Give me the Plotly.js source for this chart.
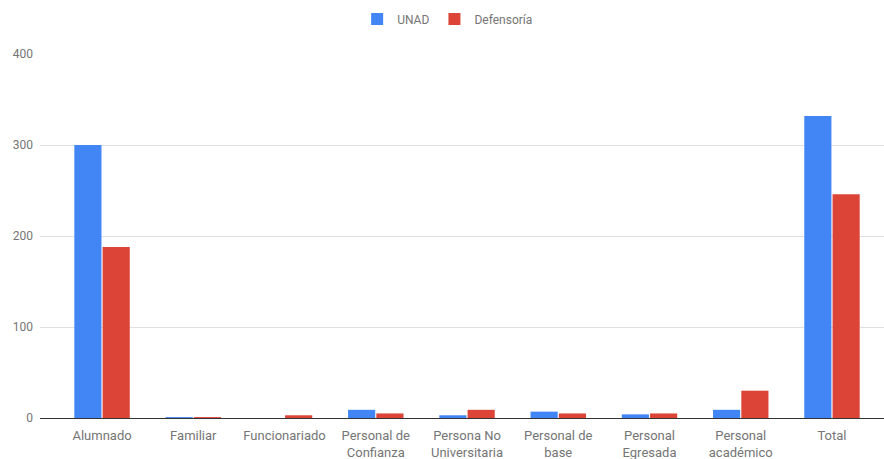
<!DOCTYPE html>
<html>
<head>
<meta charset="utf-8">
<script src="https://cdn.plot.ly/plotly-3.0.1.min.js"></script>
<style>html,body{margin:0;padding:0;background:#fff;}#chart{width:884px;height:459px;}</style>
</head>
<body>
<div id="chart"></div>
<script>
const categories = ["Alumnado", "Familiar", "Funcionariado", "Personal de<br>Confianza", "Persona No<br>Universitaria", "Personal de<br>base", "Personal<br>Egresada", "Personal<br>académico", "Total"];
const unadValues = [300, 1, 0, 9, 3, 7, 4, 9, 332];
const defensoriaValues = [188, 1, 3, 5, 9, 5, 5, 30, 246];
const yTicks = [0, 100, 200, 300, 400];

const traces = [
  {type: "bar", name: "UNAD", x: categories, y: unadValues, marker: {color: "#4285F4"}, hoverinfo: "none"},
  {type: "bar", name: "Defensoría", x: categories, y: defensoriaValues, marker: {color: "#DB4437"}, hoverinfo: "none"}
];

const layout = {
  width: 884, height: 459,
  margin: {l: 40, r: 0, t: 54, b: 41},
  paper_bgcolor: "#fff", plot_bgcolor: "#fff",
  font: {family: "Roboto, sans-serif", size: 12, color: "#757575"},
  barmode: "group", bargap: 0.38, bargroupgap: 0.04,
  showlegend: true,
  legend: {orientation: "h", x: 0.483, xanchor: "center", y: 1.096, yanchor: "middle", font: {size: 12, color: "#757575"}},
  xaxis: {type: "category", range: [-0.68, 8.57], showgrid: false, showline: false, zeroline: false, ticks: "", ticklabelstandoff: 8, tickfont: {size: 13, color: "#757575"}, fixedrange: true},
  yaxis: {range: [0, 400], tickvals: yTicks, ticktext: yTicks.map(String), showgrid: true, gridcolor: "#e0e0e0", gridwidth: 1, zeroline: true, zerolinecolor: "#333", zerolinewidth: 1, showline: false, ticks: "", ticklabelstandoff: 6, tickfont: {size: 12, color: "#757575"}, fixedrange: true}
};

Plotly.newPlot("chart", traces, layout, {displayModeBar: false, staticPlot: true});
</script>
</body>
</html>
